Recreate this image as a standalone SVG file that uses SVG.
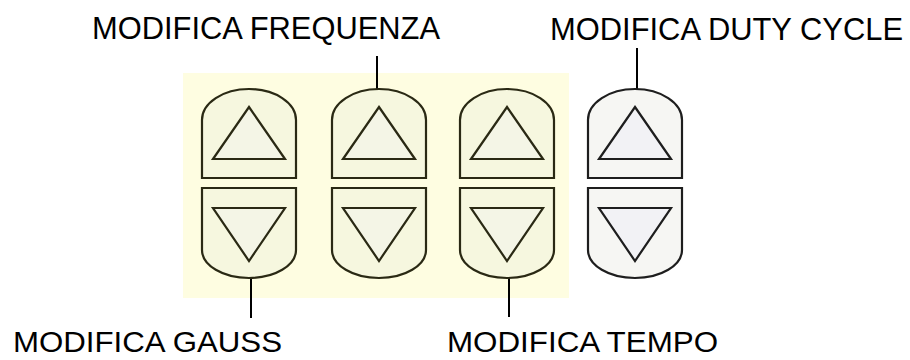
<svg xmlns="http://www.w3.org/2000/svg" width="910" height="360" viewBox="0 0 910 360">
<style>
.lbl{font-family:"Liberation Sans",Arial,sans-serif;font-size:31px;fill:#000}
.lblb{font-family:"Liberation Sans",Arial,sans-serif;font-size:30px;fill:#000}
.sh{stroke:#2a2914;stroke-width:2.2;fill:#f6f7df}
.tri{stroke:#2a2914;stroke-width:2.2;fill:#f4f5e6}
.shg{stroke:#1e1e1e;stroke-width:2.2;fill:#f6f6f3}
.trig{stroke:#1e1e1e;stroke-width:2.2;fill:#f2f2f5}
.con{stroke:#000;stroke-width:2}
</style>
<rect x="183" y="73" width="386" height="225" fill="#fefde1"/>
<g id="connectors">
<line class="con" x1="377" y1="56" x2="377" y2="89"/>
<line class="con" x1="637" y1="48" x2="637" y2="89"/>
<line class="con" x1="251" y1="278" x2="251" y2="318"/>
<line class="con" x1="509" y1="278" x2="509" y2="317"/>
</g>
<g id="btn-gauss" transform="translate(202,0)">
<path class="sh" d="M0,178 L0,120 A47,31 0 0 1 94,120 L94,178 Z"/>
<path class="sh" d="M0,188 L94,188 L94,250 A47,28 0 0 1 0,250 Z"/>
<polygon class="tri" points="47,107 83,159 11,159"/>
<polygon class="tri" points="11,208 83,208 47,261"/>
</g>
<g id="btn-frequenza" transform="translate(332,0)">
<path class="sh" d="M0,178 L0,120 A47,31 0 0 1 94,120 L94,178 Z"/>
<path class="sh" d="M0,188 L94,188 L94,250 A47,28 0 0 1 0,250 Z"/>
<polygon class="tri" points="47,107 83,159 11,159"/>
<polygon class="tri" points="11,208 83,208 47,261"/>
</g>
<g id="btn-tempo" transform="translate(460,0)">
<path class="sh" d="M0,178 L0,120 A47,31 0 0 1 94,120 L94,178 Z"/>
<path class="sh" d="M0,188 L94,188 L94,250 A47,28 0 0 1 0,250 Z"/>
<polygon class="tri" points="47,107 83,159 11,159"/>
<polygon class="tri" points="11,208 83,208 47,261"/>
</g>
<g id="btn-duty" transform="translate(588,0)">
<path class="shg" d="M0,178 L0,120 A47,31 0 0 1 94,120 L94,178 Z"/>
<path class="shg" d="M0,188 L94,188 L94,250 A47,28 0 0 1 0,250 Z"/>
<polygon class="trig" points="47,107 83,159 11,159"/>
<polygon class="trig" points="11,208 83,208 47,261"/>
</g>
<g id="labels">
<text class="lbl" x="92" y="39" textLength="348" lengthAdjust="spacingAndGlyphs">MODIFICA FREQUENZA</text>
<text class="lbl" x="550" y="40" textLength="353" lengthAdjust="spacingAndGlyphs">MODIFICA DUTY CYCLE</text>
<text class="lblb" x="13" y="352" textLength="269" lengthAdjust="spacingAndGlyphs">MODIFICA GAUSS</text>
<text class="lblb" x="447" y="352" textLength="271" lengthAdjust="spacingAndGlyphs">MODIFICA TEMPO</text>
</g>
</svg>
